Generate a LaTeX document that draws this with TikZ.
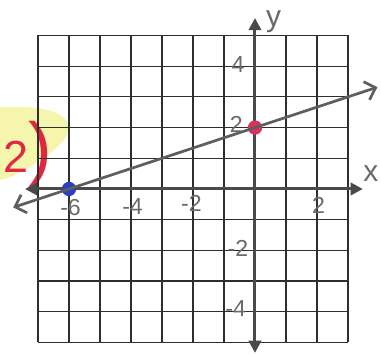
\documentclass[tikz,border=0pt]{standalone}
\usepackage{fontspec}
\setmainfont{Liberation Sans}
\usetikzlibrary{arrows.meta}
\definecolor{gridc}{HTML}{2E2E2E}
\definecolor{axisc}{HTML}{4A4A4A}
\definecolor{linec}{HTML}{5E5E5E}
\definecolor{labc}{HTML}{6A6A6A}
\definecolor{dotblue}{HTML}{2B3FC4}
\definecolor{dotred}{HTML}{DB2F5C}
\definecolor{penred}{HTML}{E0283E}
\definecolor{hiyel}{HTML}{F3F39A}
\begin{document}
\begin{tikzpicture}[x=0.8cm,y=0.7923cm,
  gridline/.style={gridc,line width=0.9pt},
  axisline/.style={axisc,line width=2.2pt,{Triangle[length=9pt,width=9pt]}-{Triangle[length=9pt,width=9pt]}},
  graphline/.style={linec,line width=2pt,{Straight Barb[length=7pt,width=14pt]}-{Straight Barb[length=7pt,width=14pt]}},
  ticklab/.style={labc,font=\fontsize{17}{17}\selectfont,inner sep=0pt},
  axislab/.style={labc,font=\fontsize{22}{22}\selectfont,inner sep=0pt},
  dot/.style={circle,inner sep=0pt,minimum size=10.5pt}]
\useasboundingbox (-8.226,-5.472) rectangle (4.065,6.156);
% highlighter
\fill[hiyel,opacity=0.8] (-8.226,2.67) .. controls (-7,2.7) and (-6.3,2.6) .. (-6.03,2.15)
  .. controls (-5.9,1.7) and (-6.4,1.3) .. (-6.94,0.94)
  .. controls (-7.4,0.6) and (-7.9,0.35) .. (-8.226,0.29) -- cycle;
% problem number
\node[penred,anchor=base west,inner sep=0pt] (num) at (-8.12,0.55)
  {\fontsize{33}{33}\selectfont 2\fontsize{52}{52}\selectfont )};
% grid
\foreach \i in {-7,...,3} \draw[gridline] (\i,-5) -- (\i,5);
\foreach \j in {-5,...,5} \draw[gridline] (-7,\j) -- (3,\j);
% axes
\coordinate (xl) at (-7.42,0);
\coordinate (xr) at (3.48,0);
\coordinate (yb) at (0,-5.34);
\coordinate (yt) at (0,5.57);
\draw[axisline] (xl) -- (xr);
\draw[axisline] (yb) -- (yt);
% points
\node[dot,fill=dotblue] (p1) at (-6,0) {};
\node[dot,fill=dotred] (p2) at (0,2) {};
% line
\coordinate (la) at (-7.8,-0.6);
\coordinate (lb) at (3.95,3.317);
\draw[graphline] (la) -- (lb);
% tick labels
\node[ticklab] (tm6) at (-5.95,-0.62) {-6};
\node[ticklab] (tm4) at (-3.95,-0.57) {-4};
\node[ticklab] (tm2) at (-2.05,-0.47) {-2};
\node[ticklab] (tp2) at (2.05,-0.52) {2};
\node[ticklab] (ty4) at (-0.55,4.05) {4};
\node[ticklab] (ty2) at (-0.6,2.1) {2};
\node[ticklab] (tym2) at (-0.55,-1.95) {-2};
\node[ticklab] (tym4) at (-0.62,-3.9) {-4};
% axis labels
\node[axislab] (xlab) at (3.74,0.5) {x};
\node[axislab] (ylab) at (0.6,5.45) {y};
\end{tikzpicture}
\end{document}
